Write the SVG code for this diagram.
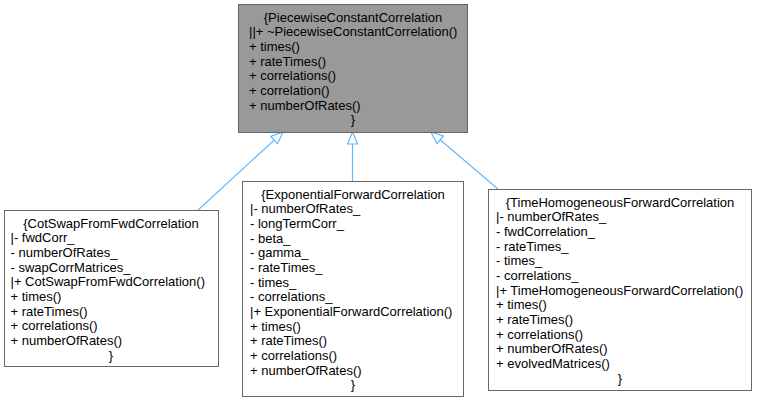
<svg xmlns="http://www.w3.org/2000/svg" width="757" height="403" viewBox="0 0 757 403">
<style>
text{font-family:"Liberation Sans",Arial,sans-serif;font-size:13px;fill:#000}
.c{text-anchor:middle}
.base{fill:#999999;stroke:#666666;stroke-width:1}
.box{fill:#ffffff;stroke:#666666;stroke-width:1}
.edge{fill:none;stroke:#63B8FF;stroke-width:1.2;marker-end:url(#tri)}
</style>
<defs>
<marker id="tri" viewBox="-1 -1 14 12" refX="12" refY="5" markerWidth="14" markerHeight="12" markerUnits="userSpaceOnUse" orient="auto">
<path d="M0,0 L12,5 L0,10 z" fill="#ffffff" stroke="#63B8FF" stroke-width="1.2"/>
</marker>
</defs>
<rect width="757" height="403" fill="#ffffff"/>
<g id="connectors">
<path class="edge" d="M197,211 L283,132"/>
<path class="edge" d="M352.5,181 L352.5,132"/>
<path class="edge" d="M498,189 L431,132"/>
</g>
<g id="PiecewiseConstantCorrelation">
<rect class="base" x="238.5" y="4.5" width="229" height="128"/>
<text class="c" x="353" y="21.5">{PiecewiseConstantCorrelation</text>
<text x="249" y="36.2">||+ ~PiecewiseConstantCorrelation()</text>
<text x="249" y="50.8">+ times()</text>
<text x="249" y="65.5">+ rateTimes()</text>
<text x="249" y="80.2">+ correlations()</text>
<text x="249" y="94.8">+ correlation()</text>
<text x="249" y="109.5">+ numberOfRates()</text>
<text class="c" x="353" y="124.2">}</text>
</g>
<g id="CotSwapFromFwdCorrelation">
<rect class="box" x="4.5" y="210.5" width="214" height="156"/>
<text class="c" x="111" y="227.5">{CotSwapFromFwdCorrelation</text>
<text x="10.5" y="242.2">|- fwdCorr_</text>
<text x="10.5" y="256.8">- numberOfRates_</text>
<text x="10.5" y="271.5">- swapCorrMatrices_</text>
<text x="10.5" y="286.2">|+ CotSwapFromFwdCorrelation()</text>
<text x="10.5" y="300.8">+ times()</text>
<text x="10.5" y="315.5">+ rateTimes()</text>
<text x="10.5" y="330.2">+ correlations()</text>
<text x="10.5" y="344.8">+ numberOfRates()</text>
<text class="c" x="111" y="359.5">}</text>
</g>
<g id="ExponentialForwardCorrelation">
<rect class="box" x="242.5" y="181.5" width="221" height="215"/>
<text class="c" x="353" y="198.5">{ExponentialForwardCorrelation</text>
<text x="250" y="213.2">|- numberOfRates_</text>
<text x="250" y="227.8">- longTermCorr_</text>
<text x="250" y="242.5">- beta_</text>
<text x="250" y="257.2">- gamma_</text>
<text x="250" y="271.8">- rateTimes_</text>
<text x="250" y="286.5">- times_</text>
<text x="250" y="301.2">- correlations_</text>
<text x="250" y="315.8">|+ ExponentialForwardCorrelation()</text>
<text x="250" y="330.5">+ times()</text>
<text x="250" y="345.2">+ rateTimes()</text>
<text x="250" y="359.8">+ correlations()</text>
<text x="250" y="374.5">+ numberOfRates()</text>
<text class="c" x="353" y="389.2">}</text>
</g>
<g id="TimeHomogeneousForwardCorrelation">
<rect class="box" x="488.5" y="189.5" width="263" height="201"/>
<text class="c" x="620" y="206.5">{TimeHomogeneousForwardCorrelation</text>
<text x="496" y="221.2">|- numberOfRates_</text>
<text x="496" y="235.8">- fwdCorrelation_</text>
<text x="496" y="250.5">- rateTimes_</text>
<text x="496" y="265.2">- times_</text>
<text x="496" y="279.8">- correlations_</text>
<text x="496" y="294.5">|+ TimeHomogeneousForwardCorrelation()</text>
<text x="496" y="309.2">+ times()</text>
<text x="496" y="323.8">+ rateTimes()</text>
<text x="496" y="338.5">+ correlations()</text>
<text x="496" y="353.2">+ numberOfRates()</text>
<text x="496" y="367.8">+ evolvedMatrices()</text>
<text class="c" x="620" y="382.5">}</text>
</g>
</svg>
